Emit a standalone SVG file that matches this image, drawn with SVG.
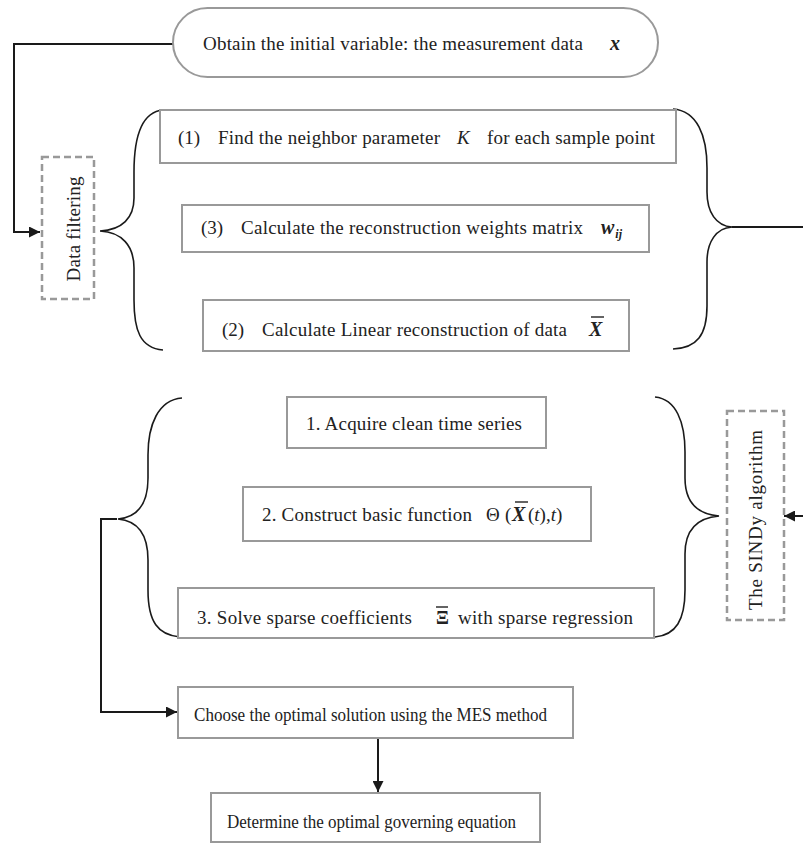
<svg xmlns="http://www.w3.org/2000/svg" width="803" height="844" viewBox="0 0 803 844">
<defs>
<marker id="arr" viewBox="0 0 10 10" refX="10" refY="5" markerWidth="12" markerHeight="11" markerUnits="userSpaceOnUse" orient="auto">
<path d="M0,0 L10,5 L0,10 z" fill="#1a1a1a"/>
</marker>
</defs>
<style>
.box{fill:#fff;stroke:#999;stroke-width:2}
.dash{fill:none;stroke:#999;stroke-width:2.5;stroke-dasharray:7,4}
.t{font-family:"Liberation Serif","Times New Roman",serif;font-size:19px;fill:#222}
.s{font-family:"Liberation Serif","Times New Roman",serif;font-size:18px;fill:#222}
.m{font-family:"Liberation Serif","Times New Roman",serif;font-size:19px;fill:#222;font-style:italic}
.mb{font-family:"Liberation Serif","Times New Roman",serif;font-size:20px;fill:#222;font-style:italic;font-weight:bold}
.br{fill:none;stroke:#1a1a1a;stroke-width:1.6}
.ln{fill:none;stroke:#1a1a1a;stroke-width:2}
.ol{stroke:#222;stroke-width:1.4}
</style>
<rect width="803" height="844" fill="#fff"/>

<g id="connectors">
<path class="ln" d="M173,44 H14 V232 H40" marker-end="url(#arr)"/>
<path class="br" d="M163,110 C140,112 134,140 134,172 L134,198 C134,218 122,230 100,231 C122,232 134,246 134,268 L134,300 C134,330 140,348 163,350"/>
<path class="br" d="M673,109 C697,111 707,135 707,168 L707,192 C707,212 716,226 732,227 C716,228 707,242 707,262 L707,306 C707,335 697,348 673,349"/>
<path class="ln" d="M732,227 H803"/>
<path class="br" d="M182,398 C158,400 148,425 148,455 L148,478 C148,500 140,517 118,519 C140,521 148,538 148,560 L148,590 C148,622 158,635 180,637"/>
<path class="br" d="M655,397 C676,399 685,422 685,452 L685,478 C685,500 695,514 719,516 C695,518 685,532 685,554 L685,590 C685,620 676,635 655,637"/>
<path class="ln" d="M117,519 H101 V712 H177" marker-end="url(#arr)"/>
<path class="ln" d="M803,516 H784" marker-end="url(#arr)"/>
<path class="ln" d="M378,738 V792" marker-end="url(#arr)"/>
</g>

<g id="start">
<rect class="box" x="173" y="8" width="485" height="69" rx="34.5"/>
<text class="t" x="203" y="50" textLength="380">Obtain the initial variable: the measurement data</text>
<text class="mb" x="610" y="50">x</text>
</g>

<g id="data-filtering">
<rect class="dash" x="42" y="157" width="52" height="142"/>
<text class="t" transform="translate(80,229) rotate(-90)" text-anchor="middle" textLength="105">Data filtering</text>
</g>

<g id="step1-neighbor">
<rect class="box" x="160" y="110" width="516" height="53"/>
<text class="t" x="178" y="144">(1)</text>
<text class="t" x="218" y="144" textLength="222">Find the neighbor parameter</text>
<text class="m" x="457" y="144">K</text>
<text class="t" x="487" y="144" textLength="168">for each sample point</text>
</g>

<g id="step3-weights">
<rect class="box" x="182" y="205" width="467" height="47"/>
<text class="t" x="201" y="234">(3)</text>
<text class="t" x="241" y="234" textLength="342">Calculate the reconstruction weights matrix</text>
<text class="mb" x="601" y="234">w<tspan font-size="12" dy="4" dx="1">ij</tspan></text>
</g>

<g id="step2-linear">
<rect class="box" x="203" y="300" width="426" height="51"/>
<text class="t" x="222" y="336">(2)</text>
<text class="t" x="262" y="336" textLength="305">Calculate Linear reconstruction of data</text>
<text class="mb" x="589" y="336">X</text>
<line class="ol" x1="591" y1="317" x2="604" y2="317"/>
</g>

<g id="sindy-label">
<rect class="dash" x="727" y="411" width="57" height="209"/>
<text class="t" transform="translate(762,520) rotate(-90)" text-anchor="middle" textLength="180">The SINDy algorithm</text>
</g>

<g id="sindy-step1">
<rect class="box" x="287" y="397" width="259" height="51"/>
<text class="t" x="306" y="430" textLength="216">1. Acquire clean time series</text>
</g>

<g id="sindy-step2">
<rect class="box" x="243" y="487" width="348" height="54"/>
<text class="t" x="262" y="521" textLength="210">2. Construct basic function</text>
<text class="t" x="486" y="521">Θ</text>
<text class="t" x="505" y="521">(</text>
<text class="mb" x="512" y="521">X</text>
<line class="ol" x1="515" y1="502" x2="528" y2="502"/>
<text class="t" x="528" y="521">(<tspan font-style="italic">t</tspan>),<tspan font-style="italic">t</tspan>)</text>
</g>

<g id="sindy-step3">
<rect class="box" x="178" y="588" width="476" height="50"/>
<text class="t" x="197" y="624" textLength="215">3. Solve sparse coefficients</text>
<text class="t" x="436" y="624" font-weight="bold">Ξ</text>
<line class="ol" x1="436" y1="607" x2="448" y2="607"/>
<text class="t" x="458" y="624" textLength="175">with sparse regression</text>
</g>

<g id="choose">
<rect class="box" x="178" y="687" width="395" height="51"/>
<text class="s" x="194" y="721" textLength="353" lengthAdjust="spacingAndGlyphs">Choose the optimal solution using the MES method</text>
</g>

<g id="determine">
<rect class="box" x="211" y="793" width="329" height="49"/>
<text class="s" x="227" y="828" textLength="289" lengthAdjust="spacingAndGlyphs">Determine the optimal governing equation</text>
</g>
</svg>
